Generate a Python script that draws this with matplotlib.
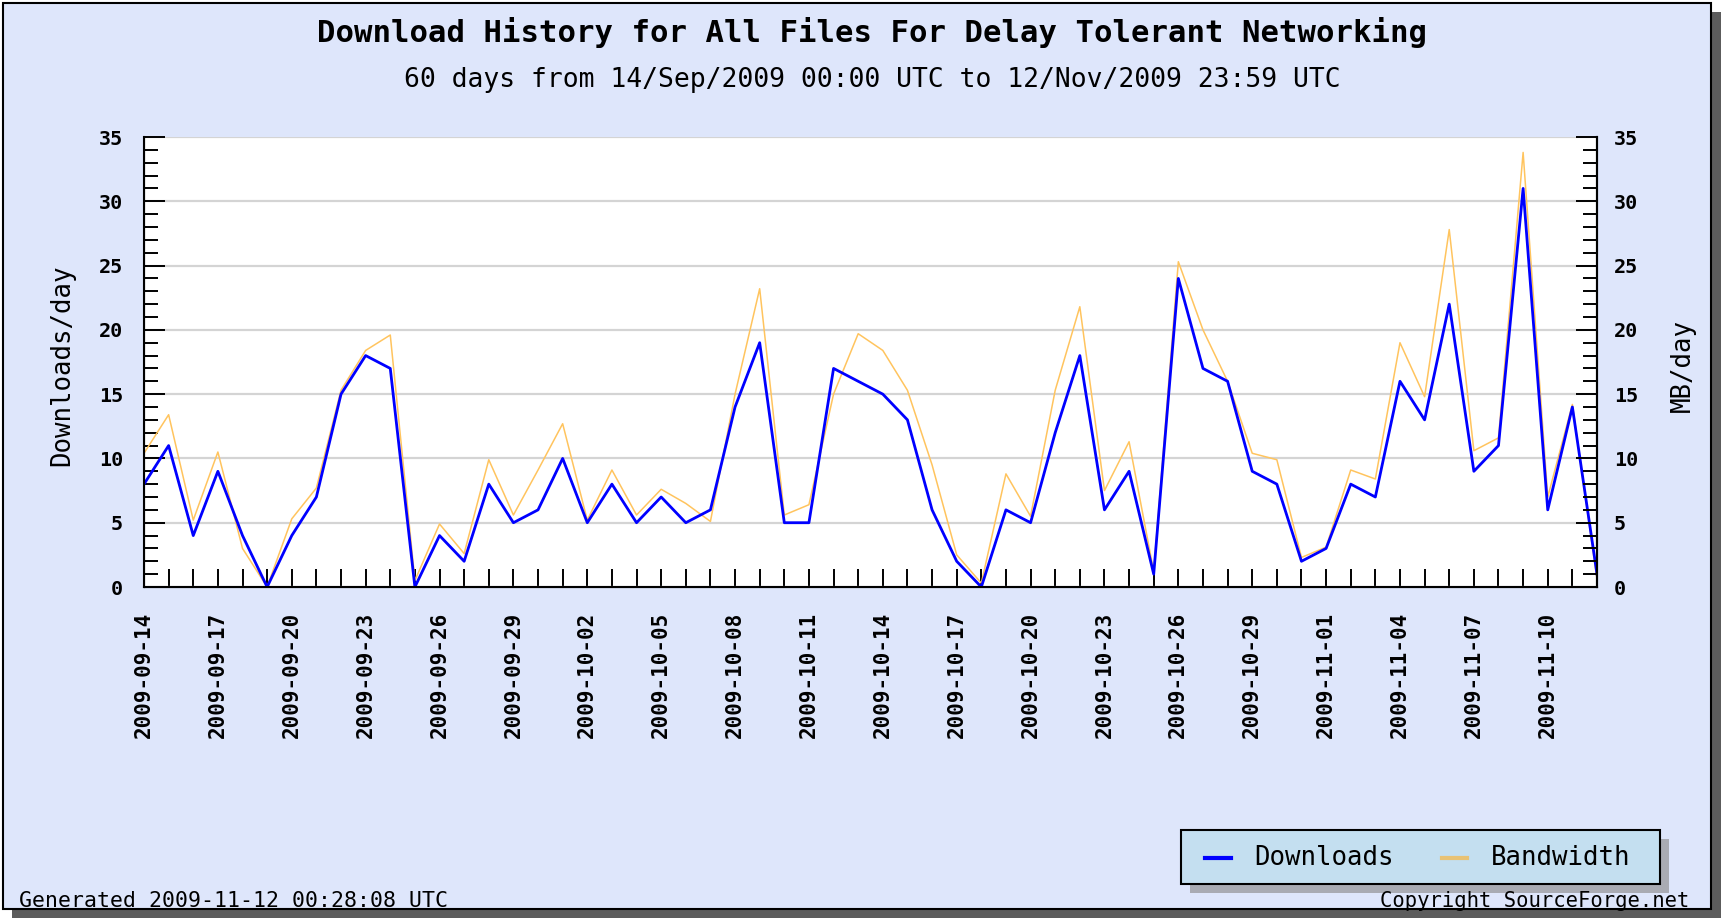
import pandas as pd
import matplotlib
matplotlib.use('Agg')
import matplotlib.pyplot as plt
from matplotlib.patches import Rectangle
from matplotlib.lines import Line2D

# daily values, 14 Sep 2009 .. 12 Nov 2009
dates = pd.date_range('2009-09-14', periods=60).strftime('%Y-%m-%d').tolist()
downloads = [8, 11, 4, 9, 4, 0, 4, 7, 15, 18, 17, 0, 4, 2, 8, 5, 6, 10, 5, 8,
             5, 7, 5, 6, 14, 19, 5, 5, 17, 16, 15, 13, 6, 2, 0, 6, 5, 12, 18,
             6, 9, 1, 24, 17, 16, 9, 8, 2, 3, 8, 7, 16, 13, 22, 9, 11, 31, 6, 14, 1]
bandwidth = [10.4, 13.4, 5.2, 10.5, 3.0, 0.0, 5.3, 7.7, 15.3, 18.4, 19.6, 0.5, 4.9, 2.6, 9.9, 5.6, 9.1, 12.7, 5.2, 9.1,
             5.6, 7.6, 6.5, 5.1, 15.0, 23.2, 5.6, 6.4, 15.0, 19.7, 18.4, 15.3, 9.5, 2.5, 0.3, 8.8, 5.5, 15.3, 21.8,
             7.5, 11.3, 1.2, 25.3, 20.0, 16.0, 10.4, 9.9, 2.3, 3.1, 9.1, 8.4, 19.0, 14.8, 27.8, 10.6, 11.6, 33.8, 7.0, 14.2, 0.6]

W, H = 1722, 922
MONO = 'DejaVu Sans Mono'
BG = '#DEE6FB'


def fx(px):
    return px / W


def fy(py):
    return 1 - py / H


fig = plt.figure(figsize=(W / 100, H / 100), dpi=100)
fig.patch.set_facecolor('white')

# panel with drop shadow
fig.add_artist(Rectangle((fx(12), fy(918)), (1721 - 12) / W, (918 - 12) / H,
                         transform=fig.transFigure, facecolor='#5c5c5c',
                         edgecolor='none', zorder=-3))
fig.add_artist(Rectangle((fx(3), fy(909)), (1711 - 3) / W, (909 - 3) / H,
                         transform=fig.transFigure, facecolor=BG,
                         edgecolor='black', lw=1.5, zorder=-2))

ax = fig.add_axes([fx(144), fy(587), (1597 - 144) / W, (587 - 137) / H])
ax.set_facecolor('white')
x = list(range(len(dates)))
ax.plot(x, bandwidth, color='#FFC45E', lw=1.1)
ax.plot(x, downloads, color='#0000FF', lw=2.0)

ax.set_xlim(0, len(dates) - 1)
ax.set_ylim(0, 35)
ax.set_yticks(range(0, 36, 5))
ax.set_yticks(range(0, 36), minor=True)
ax.yaxis.grid(True, color='#D4D4D4', lw=1.6)
ax.set_axisbelow(True)
ax.set_xticks(x)
ax.set_xticklabels([d if i % 3 == 0 else '' for i, d in enumerate(dates)],
                   rotation=90, family=MONO, fontsize=15, weight='bold')
for lab in ax.get_yticklabels():
    lab.set_family(MONO)
    lab.set_fontsize(14.5)
    lab.set_weight('bold')
ax.tick_params(axis='x', direction='in', length=13, width=1.4, pad=18)
ax.tick_params(axis='y', which='major', direction='in', length=15, width=1.4, pad=15)
ax.tick_params(axis='y', which='minor', direction='in', length=10, width=1.4)
ax.spines['top'].set_visible(False)
for s in ['left', 'bottom', 'right']:
    ax.spines[s].set_linewidth(1.5)

ax2 = ax.twinx()
ax2.set_ylim(0, 35)
ax2.set_yticks(range(0, 36, 5))
ax2.set_yticks(range(0, 36), minor=True)
for lab in ax2.get_yticklabels():
    lab.set_family(MONO)
    lab.set_fontsize(14.5)
    lab.set_weight('bold')
ax2.tick_params(axis='y', which='major', direction='in', length=15, width=1.4, pad=12)
ax2.tick_params(axis='y', which='minor', direction='in', length=10, width=1.4)
ax2.spines['top'].set_visible(False)
ax2.spines['right'].set_linewidth(1.5)

fig.text(fx(62), fy(365), 'Downloads/day', rotation=90, ha='center', va='center',
         family=MONO, fontsize=18.5)
fig.text(fx(1683), fy(365), 'MB/day', rotation=90, ha='center', va='center',
         family=MONO, fontsize=18.5)

fig.text(fx(872), fy(33), 'Download History for All Files For Delay Tolerant Networking',
         ha='center', va='center', family=MONO, weight='bold', fontsize=22.1)
fig.text(fx(872), fy(80), '60 days from 14/Sep/2009 00:00 UTC to 12/Nov/2009 23:59 UTC',
         ha='center', va='center', family=MONO, fontsize=19)

# legend box
fig.add_artist(Rectangle((fx(1190), fy(893)), 479 / W, 54 / H, transform=fig.transFigure,
                         facecolor='#A9ABB3', edgecolor='none', zorder=1))
fig.add_artist(Rectangle((fx(1181), fy(884)), 479 / W, 54 / H, transform=fig.transFigure,
                         facecolor='#C4DFF0', edgecolor='black', lw=1.5, zorder=2))
fig.add_artist(Line2D([fx(1205), fx(1231)], [fy(858), fy(858)], transform=fig.transFigure,
                      color='#0000FF', lw=3, zorder=3))
fig.text(fx(1254), fy(858), 'Downloads', ha='left', va='center', family=MONO,
         fontsize=18.5, zorder=3)
fig.add_artist(Line2D([fx(1442), fx(1467)], [fy(858), fy(858)], transform=fig.transFigure,
                      color='#E8C274', lw=3, zorder=3))
fig.text(fx(1491), fy(858), 'Bandwidth', ha='left', va='center', family=MONO,
         fontsize=18.5, zorder=3)

fig.text(fx(19), fy(901), 'Generated 2009-11-12 00:28:08 UTC', ha='left', va='center',
         family=MONO, fontsize=15.5)
fig.text(fx(1689), fy(901), 'Copyright SourceForge.net', ha='right', va='center',
         family=MONO, fontsize=14.8)

fig.savefig('out.png', dpi=100, facecolor=fig.get_facecolor())
